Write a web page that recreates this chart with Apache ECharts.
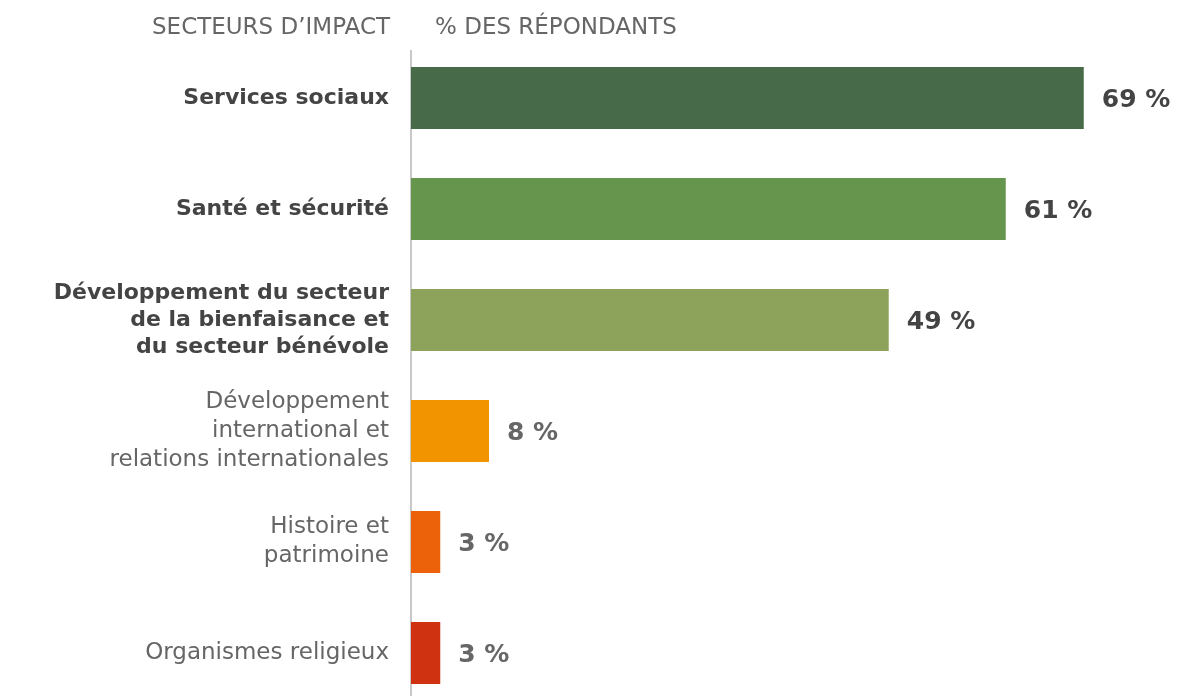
<!DOCTYPE html>
<html>
<head>
<meta charset="utf-8">
<script src="https://cdn.jsdelivr.net/npm/echarts@6/dist/echarts.min.js"></script>
<style>
  html, body { margin: 0; padding: 0; background: #fff; }
  #chart { width: 1199px; height: 696px; }
</style>
</head>
<body>
<div id="chart"></div>
<script>
// 数据
var categories = [
    'Services sociaux',
    'Santé et sécurité',
    'Développement du secteur\nde la bienfaisance et\ndu secteur bénévole',
    'Développement\ninternational et\nrelations internationales',
    'Histoire et\npatrimoine',
    'Organismes religieux'
];
var values = [69, 61, 49, 8, 3, 3];
var highlighted = [true, true, true, false, false, false]; // libellés en gras
var barColors = ['#476a48', '#66964d', '#8da35c', '#f29400', '#ec620a', '#cf3211'];

var FONT = '"DejaVu Sans", sans-serif';

var myChart = echarts.init(document.getElementById('chart'));

var seriesData = [];
for (var i = 0; i < values.length; i++) {
    seriesData.push({
        value: values[i],
        itemStyle: { color: barColors[i] },
        label: { color: highlighted[i] ? '#444' : '#666' }
    });
}

var option = {
    animation: false,
    grid: { left: 411, top: 42.5, width: 780, height: 666, containLabel: false, outerBoundsMode: 'none' },
    xAxis: {
        type: 'value',
        min: 0,
        max: 80,
        show: false
    },
    yAxis: {
        type: 'category',
        inverse: true,
        data: categories,
        axisLine: { show: false },
        axisTick: { show: false },
        axisLabel: {
            margin: 22,
            formatter: function (val, idx) {
                return highlighted[idx] ? '{b|' + val + '}' : '{n|' + val + '}';
            },
            rich: {
                b: { fontFamily: FONT, fontWeight: 'bold', fontSize: 22, color: '#444', lineHeight: 27, align: 'right' },
                n: { fontFamily: FONT, fontWeight: 'normal', fontSize: 23, color: '#666', lineHeight: 29, align: 'right' }
            }
        }
    },
    graphic: [
        { type: 'line', shape: { x1: 411, y1: 50, x2: 411, y2: 696 }, style: { stroke: '#c8c8c8', lineWidth: 2 } },
        { type: 'text', right: 1199 - 390, top: 17, style: { text: 'SECTEURS D\u2019IMPACT', fill: '#666', font: '23px ' + FONT, textAlign: 'right' } },
        { type: 'text', left: 435, top: 17, style: { text: '% DES RÉPONDANTS', fill: '#666', font: '23px ' + FONT } }
    ],
    series: [{
        type: 'bar',
        data: seriesData,
        barWidth: 62,
        label: {
            show: true,
            position: 'right',
            distance: 18,
            offset: [0, 2],
            fontFamily: FONT,
            fontWeight: 'bold',
            fontSize: 25,
            formatter: function (p) { return p.value + ' %'; }
        }
    }]
};

myChart.setOption(option);
window.onresize = myChart.resize;
</script>
</body>
</html>
